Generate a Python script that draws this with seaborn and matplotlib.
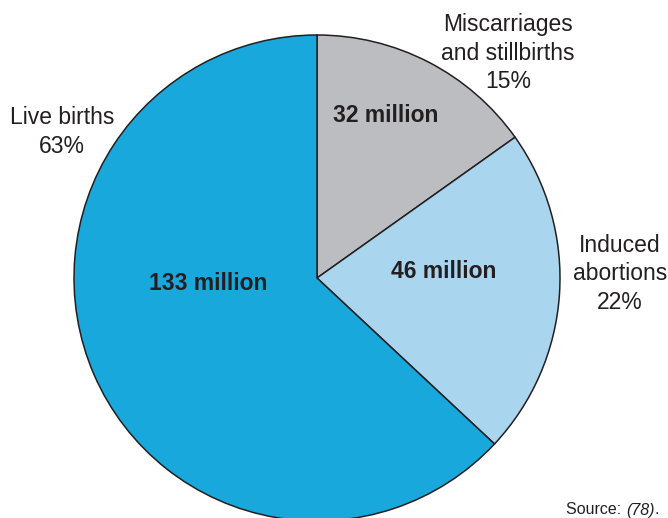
import matplotlib
matplotlib.use("Agg")
import matplotlib.pyplot as plt
import seaborn as sns

# Outcomes of pregnancies worldwide (millions)
categories = ["Miscarriages\nand stillbirths", "Induced\nabortions", "Live births"]
values_million = [32, 46, 133]
percent_labels = ["15%", "22%", "63%"]
colors = ["#BCBDC0", "#A9D5EE", "#19A8DB"]

sns.set_theme(style="white")
plt.rcParams["font.family"] = ["Liberation Sans Narrow", "Liberation Sans", "DejaVu Sans"]

fig = plt.figure(figsize=(6.68, 5.18), dpi=100)
ax = fig.add_axes([0, 0, 1, 1])

wedges, _ = ax.pie(
    values_million,
    colors=colors,
    startangle=90,
    counterclock=False,
    center=(317, 240),
    radius=243,
    wedgeprops=dict(edgecolor="#231F20", linewidth=1.1),
    frame=True,
)
ax.set_xlim(0, 668)
ax.set_ylim(0, 518)
ax.set_aspect("equal")
ax.axis("off")

inner_pos = [(386, 402), (444, 247), (208, 234)]
for (x, y), v in zip(inner_pos, values_million):
    ax.text(x, y, f"{v} million", ha="center", va="center",
            fontsize=16.5, fontweight="bold", color="#231F20")

outer_pos = [(508, 465), (620, 244), (62, 386)]
for (x, y), cat, pct in zip(outer_pos, categories, percent_labels):
    ax.text(x, y, f"{cat}\n{pct}", ha="center", va="center",
            fontsize=16.5, color="#231F20", linespacing=1.33)

ax.text(626, 8, "Source: ", ha="right", va="center", fontsize=11.5, color="#231F20")
ax.text(626, 8, "(78)", ha="left", va="center", fontsize=11.5, style="italic", color="#231F20")
ax.text(655, 8, ".", ha="left", va="center", fontsize=11.5, color="#231F20")

fig.savefig("out.png", dpi=100)
